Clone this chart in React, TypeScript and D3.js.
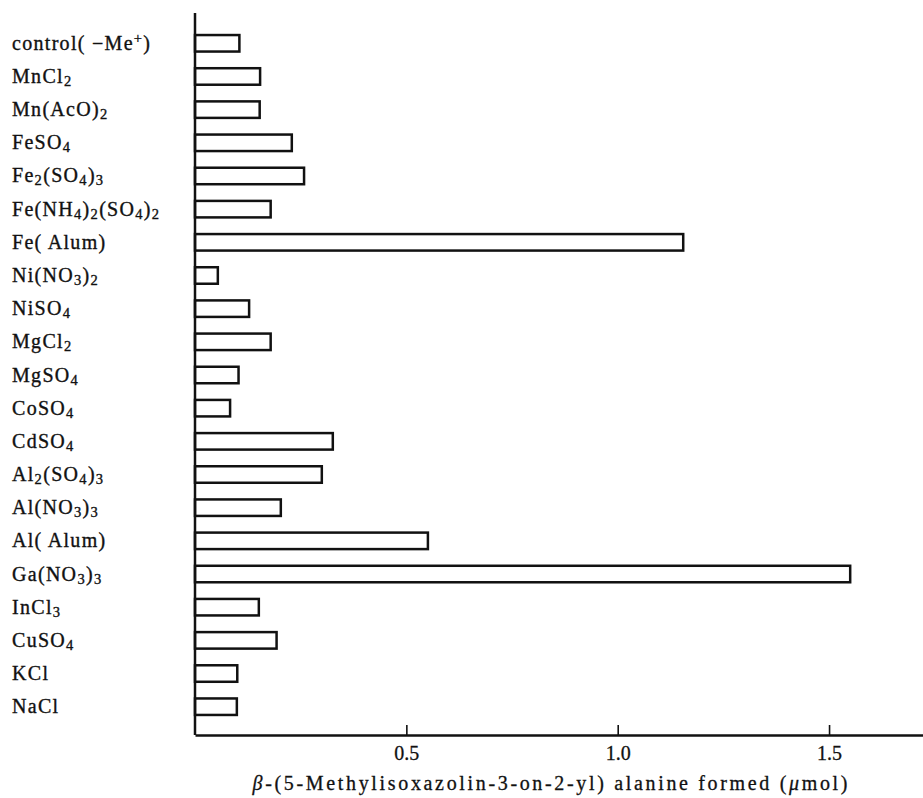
import React, { useRef, useEffect } from 'react'
import * as d3 from 'd3'

// labels use _x for subscript and ^x for superscript
const labels = [
    'control( −Me^+)',
    'MnCl_2',
    'Mn(AcO)_2',
    'FeSO_4',
    'Fe_2(SO_4)_3',
    'Fe(NH_4)_2(SO_4)_2',
    'Fe( Alum)',
    'Ni(NO_3)_2',
    'NiSO_4',
    'MgCl_2',
    'MgSO_4',
    'CoSO_4',
    'CdSO_4',
    'Al_2(SO_4)_3',
    'Al(NO_3)_3',
    'Al( Alum)',
    'Ga(NO_3)_3',
    'InCl_3',
    'CuSO_4',
    'KCl',
    'NaCl',
]
const values = [
    0.105, 0.154, 0.153, 0.229, 0.258, 0.179, 1.155, 0.054, 0.128, 0.179, 0.103,
    0.083, 0.326, 0.300, 0.203, 0.551, 1.550, 0.151, 0.193, 0.100, 0.099,
]
const tickValues = [0.5, 1.0, 1.5]

const FONT = '"Liberation Serif", "DejaVu Serif", serif'

const parseLabel = (s: string) => {
    const parts: { t: string; k: 'n' | 'sub' | 'sup' }[] = []
    let i = 0
    while (i < s.length) {
        const c = s[i]
        if ((c === '_' || c === '^') && i + 1 < s.length) {
            parts.push({ t: s[i + 1], k: c === '_' ? 'sub' : 'sup' })
            i += 2
        } else {
            const last = parts[parts.length - 1]
            if (last && last.k === 'n') last.t += c
            else parts.push({ t: c, k: 'n' })
            i += 1
        }
    }
    return parts
}

const Label = ({ text, x, y }: { text: string; x: number; y: number }) => {
    const parts = parseLabel(text)
    let shift = 0
    return (
        <text
            x={x}
            y={y}
            fontFamily={FONT}
            fontSize={20}
            letterSpacing={1.3}
            fill="#111"
            stroke="#111"
            strokeWidth={0.35}
        >
            {parts.map((p, i) => {
                let target = 0
                if (p.k === 'sub') target = 3
                if (p.k === 'sup') target = -7
                const dy = target - shift
                shift = target
                return (
                    <tspan key={i} dy={dy} fontSize={p.k === 'n' ? 20 : 14.5}>
                        {p.t}
                    </tspan>
                )
            })}
        </text>
    )
}

const App = () => {
    const axisRef = useRef<SVGGElement>(null)

    const width = 923
    const height = 798
    const x0 = 195
    const axisY = 735

    const xScale = d3.scaleLinear().domain([0, (width - x0) / 422.7]).range([x0, width])
    const yScale = d3.scalePoint<string>().domain(labels).range([43.3, 706.7])
    const barH = 16.5

    useEffect(() => {
        const g = d3.select(axisRef.current)
        const xAxis = d3
            .axisBottom(xScale)
            .tickValues(tickValues)
            .tickFormat(d3.format('.1f'))
            .tickSize(-10)
            .tickSizeOuter(0)
            .tickPadding(11)
        g.call(xAxis)
        g.attr('font-family', FONT).attr('font-size', 20)
        g.select('.domain').attr('stroke', '#111').attr('stroke-width', 2.5)
        g.selectAll('.tick line').attr('stroke', '#111').attr('stroke-width', 1.6)
        g.selectAll('.tick text').attr('fill', '#111').attr('stroke', '#111').attr('stroke-width', 0.3)
    }, [])

    return (
        <svg
            width={width}
            height={height}
            style={{ position: 'absolute', left: 0, top: 0, background: '#fff' }}
        >
            {labels.map((l, i) => (
                <g key={l}>
                    <rect
                        x={xScale(0)}
                        y={(yScale(l) as number) - barH / 2}
                        width={xScale(values[i]) - xScale(0)}
                        height={barH}
                        fill="#fff"
                        stroke="#111"
                        strokeWidth={2.5}
                    />
                    <Label text={l} x={12} y={(yScale(l) as number) + 6.5} />
                </g>
            ))}
            <line x1={xScale(0)} x2={xScale(0)} y1={13} y2={axisY} stroke="#111" strokeWidth={2.5} />
            <g ref={axisRef} transform={`translate(0,${axisY})`} />
            <text
                x={550}
                y={790}
                textAnchor="middle"
                fontFamily={FONT}
                fontSize={20}
                textLength={595}
                lengthAdjust="spacing"
                fill="#111"
                stroke="#111"
                strokeWidth={0.3}
            >
                <tspan fontStyle="italic">β</tspan>-(5-Methylisoxazolin-3-on-2-yl) alanine formed (
                <tspan fontStyle="italic">μ</tspan>mol)
            </text>
        </svg>
    )
}

export default App
